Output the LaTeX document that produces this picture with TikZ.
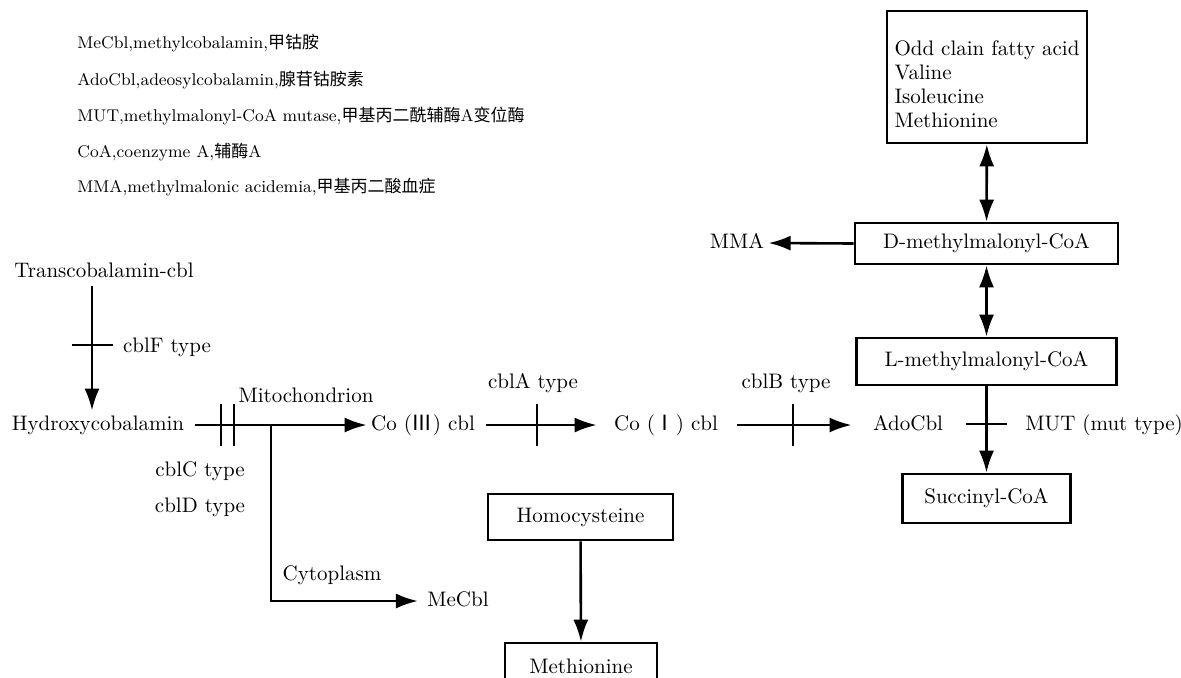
\documentclass[tikz,border=0pt]{standalone}
\usepackage{fontspec}
\newfontfamily\cjk{Noto Sans CJK SC}
\usetikzlibrary{arrows.meta}

\newcommand{\crossV}[2]{\draw[bar] (#1,#2-21) -- (#1,#2+21);}
\newcommand{\crossH}[2]{\draw[bar] (#1-20.5,#2) -- (#1+20.5,#2);}

\begin{document}
\begin{tikzpicture}
    [x=0.5pt, y=-0.5pt,
    lbl/.style={inner sep=2pt, text height=7.5pt, text depth=2.5pt, font=\fontsize{10.5}{12.5}\selectfont},
    legend/.style={anchor=west, inner sep=0pt, font=\fontsize{8.5}{10}\selectfont},
    box/.style={draw=black, line width=1.3pt, inner sep=0pt, font=\fontsize{10.5}{12}\selectfont},
    arrow/.style={-{Latex[length=11pt,width=7.5pt]}, line width=1.3pt},
    twoway/.style={{Latex[length=11pt,width=7.5pt]}-{Latex[length=11pt,width=7.5pt]}, line width=1.3pt},
    bar/.style={line width=1.3pt},
    ]
    \useasboundingbox (0,0) rectangle (1181,677);

    \node[legend] (leg1) at (77,43) {MeCbl,methylcobalamin,{\cjk 甲钴胺}};
    \node[legend] (leg2) at (77,80) {AdoCbl,adeosylcobalamin,{\cjk 腺苷钴胺素}};
    \node[legend] (leg3) at (77,116) {MUT,methylmalonyl-CoA mutase,{\cjk 甲基丙二酰辅酶}A{\cjk 变位酶}};
    \node[legend] (leg4) at (77,152) {CoA,coenzyme A,{\cjk 辅酶}A};
    \node[legend] (leg5) at (77,187) {MMA,methylmalonic acidemia,{\cjk 甲基丙二酸血症}};

    \node[lbl] (tcbl) at (104,272) {Transcobalamin-cbl};
    \node[lbl] (hcbl) at (98,425) {Hydroxycobalamin};
    \node[lbl] (co3) at (423,425) {Co ({\cjk Ⅲ}) cbl};
    \node[lbl] (co1) at (666,425) {Co ({\cjk Ⅰ}) cbl};
    \node[lbl] (ado) at (908,425) {AdoCbl};
    \node[lbl] (mutl) at (1104,425) {MUT (mut type)};
    \node[lbl] (mecbl) at (458,601) {MeCbl};
    \node[lbl] (mma) at (737,243) {MMA};

    \node[lbl] (cblf) at (167,347) {cblF type};
    \node[lbl] (mito) at (306,397) {Mitochondrion};
    \node[lbl] (cblc) at (200,471) {cblC type};
    \node[lbl] (cbld) at (200,507) {cblD type};
    \node[lbl] (cyto) at (332,575) {Cytoplasm};
    \node[lbl] (cbla) at (533,383) {cblA type};
    \node[lbl] (cblb) at (786,383) {cblB type};

    \node[box, minimum width=100pt, minimum height=66pt, align=left] (odd) at (987,77)
        {\rule{0pt}{14.5pt}Odd clain fatty acid\\Valine\\Isoleucine\\Methionine};
    \node[box, minimum width=131.5pt, minimum height=20.5pt] (dmm) at (986.5,243.5) {D-methylmalonyl-CoA};
    \node[box, minimum width=130pt, minimum height=23.5pt] (lmm) at (986.5,361.5) {L-methylmalonyl-CoA};
    \node[box, minimum width=84pt, minimum height=24.5pt] (succ) at (986.5,498.5) {Succinyl-CoA};
    \node[box, minimum width=92.5pt, minimum height=23pt] (homo) at (580.5,517) {Homocysteine};
    \node[box, minimum width=76pt, minimum height=23.5pt] (meth) at (581,666.5) {Methionine};

    \coordinate (fx) at (92,0);
    \coordinate (br) at (271,425);

    \draw[arrow] (tcbl.south -| fx) -- (hcbl.north -| fx);
    \draw[arrow, shorten <=3.5pt] (hcbl.east) -- (co3.west);
    \draw[arrow, shorten >=2.5pt] (br) |- (mecbl.west);
    \draw[arrow, shorten <=3.5pt, shorten >=6.5pt] (co3.east) -- (co1.west);
    \draw[arrow, shorten <=7.5pt, shorten >=8.5pt] (co1.east) -- (ado.west);
    \draw[arrow] (lmm) -- (succ);
    \draw[arrow] (dmm.west) -- (mma.east);
    \draw[twoway] (odd) -- (dmm);
    \draw[twoway] (dmm) -- (lmm);
    \draw[arrow] (homo) -- (meth);

    \crossH{92}{345}
    \crossV{221}{425} \crossV{234}{425}
    \crossV{537}{425}
    \crossV{793}{425}
    \crossH{986.5}{424}
\end{tikzpicture}
\end{document}
